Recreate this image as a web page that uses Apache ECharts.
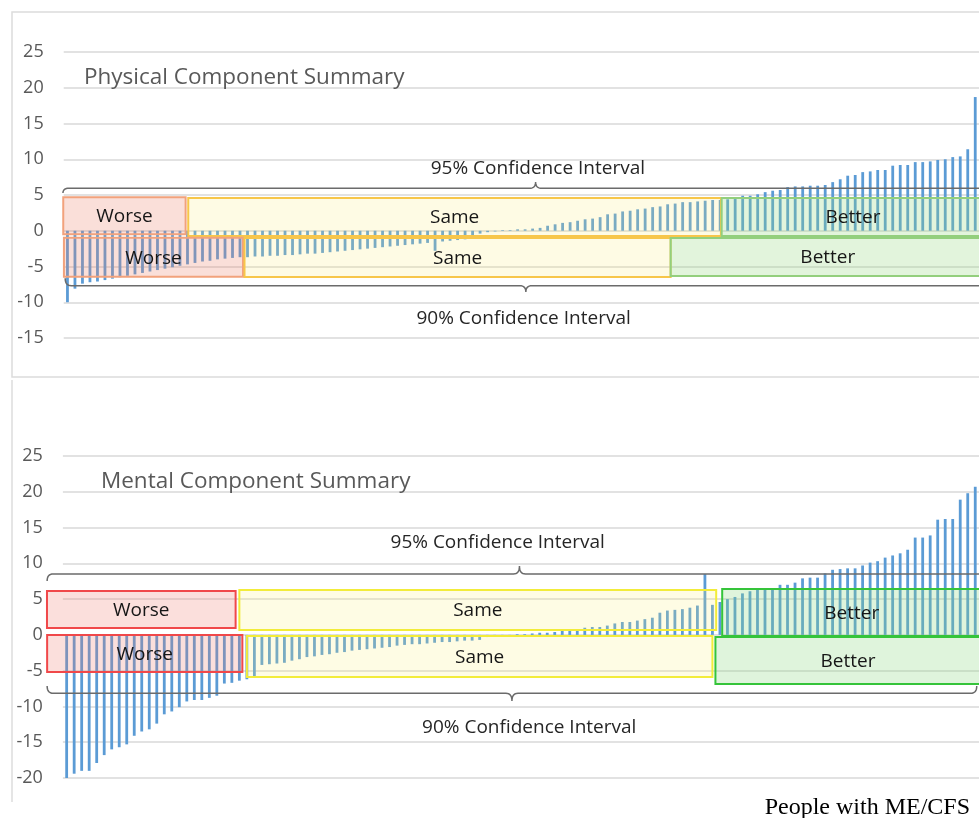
<!DOCTYPE html>
<html>
<head>
<meta charset="utf-8">
<script src="https://cdn.jsdelivr.net/npm/echarts@6/dist/echarts.min.js"></script>
<style>
html, body { margin: 0; padding: 0; background: #fff; }
#main { width: 979px; height: 818px; }
</style>
</head>
<body>
<div id="main"></div>
<script>
// score changes, one bar per person, sorted
var physical = [
  -10.0, -8.1, -7.4, -7.2, -7.1, -6.9, -6.7, -6.5, -6.3, -6.1, -5.9, -5.7, -5.5, -5.3, -5.1, -4.9,
  -4.7, -4.5, -4.3, -4.2, -4.0, -3.9, -3.8, -3.7,
  -3.7, -3.6, -3.6, -3.5, -3.5, -3.4, -3.4, -3.3, -3.2, -3.2, -3.1, -3.0, -2.9, -2.8, -2.7, -2.6,
  -2.5, -2.4, -2.3, -2.2, -2.1, -2.0, -1.9, -1.8, -1.7, -2.8, -1.5, -1.4, -1.3, -1.2, -1.1, -0.4,
  -0.2, -0.1, 0.1, 0.1, 0.2, 0.2, 0.3, 0.4,
  0.7, 0.9, 1.1, 1.2, 1.4, 1.6, 1.7, 1.9, 2.3, 2.4, 2.7, 2.8, 3.0, 3.1, 3.3, 3.4,
  3.7, 3.8, 4.0, 4.0, 4.1, 4.2, 4.3,
  4.3, 4.4, 4.7, 4.9, 4.9, 5.1, 5.4, 5.6, 5.7, 6.1, 6.2, 6.2, 6.3, 6.3, 6.4, 6.8,
  7.2, 7.7, 7.8, 8.2, 8.3, 8.5, 8.5, 9.1, 9.2, 9.2, 9.6, 9.6, 9.7, 9.9, 10.0, 10.3,
  10.4, 11.4, 18.7
];
var mental = [
  -20.1, -19.4, -19.0, -19.0, -17.9, -16.8, -16.0, -15.7, -15.3, -14.1, -13.5, -13.2, -12.4,
  -11.1, -10.7, -10.1, -9.3, -9.1, -9.1, -8.8, -8.5, -6.8, -6.7, -6.4, -6.2, -5.9,
  -4.2, -4.1, -4.0, -3.9, -3.6, -3.4, -3.1, -3.0, -2.8, -2.7, -2.5, -2.4, -2.2, -2.1, -2.0,
  -1.9, -1.8, -1.7, -1.5, -1.4, -1.3, -1.3, -1.2, -1.1, -1.0, -1.0, -0.9, -0.8, -0.8, -0.7,
  -0.3, -0.2, -0.1, -0.1,
  0.1, 0.1, 0.2, 0.3, 0.3, 0.4, 0.6, 0.7, 0.8, 1.0, 1.1, 1.1, 1.3, 1.6, 1.8, 1.8, 2.0,
  2.2, 2.4, 3.1, 3.4, 3.5, 3.6, 3.8, 4.1,
  8.5, 4.2, 4.6,
  5.0, 5.3, 5.8, 6.1, 6.3, 6.4, 6.5, 7.0, 7.0, 7.3, 7.9, 8.0, 8.0, 8.6, 9.1, 9.2, 9.3,
  9.3, 9.7, 10.1, 10.3, 10.8, 11.1, 11.4, 11.9, 13.6, 13.6, 13.9, 16.1, 16.2, 16.2,
  18.9, 19.8, 20.7
];

// y axis ticks
var physTicks = [-15, -10, -5, 0, 5, 10, 15, 20, 25];
var mentalTicks = [-20, -15, -10, -5, 0, 5, 10, 15, 20, 25];

// classification boxes: [from bar, to bar, low, high, label]
var physBands = [
  [-0.56, 15.75, -0.5, 4.68, 'Worse'],
  [16.1, 87.1, -0.73, 4.58, 'Same'],
  [87.2, 122.2, -0.73, 4.58, 'Better'],
  [-0.47, 23.4, -6.43, -0.97, 'Worse'],
  [23.6, 80.4, -6.47, -1.01, 'Same'],
  [80.4, 122.3, -6.33, -1.01, 'Better']
];
var mentalBands = [
  [-2.62, 22.5, 0.96, 6.13, 'Worse'],
  [23.0, 86.5, 0.68, 6.27, 'Same'],
  [87.3, 121.8, -0.15, 6.41, 'Better'],
  [-2.6, 23.4, -5.18, -0.01, 'Worse'],
  [24.0, 86.0, -5.88, -0.15, 'Same'],
  [86.4, 121.7, -6.86, -0.29, 'Better']
];

// braces: [left, tip, right, line, curl end, tip end, label, label x, label y, right curl]
var physBraces = [
  [-0.6, 62.4, 123, 5.94, 5.28, 6.8, '95% Confidence Interval', 62.7, 8.64, false],
  [-0.3, 61.1, 123, -7.69, -6.65, -8.57, '90% Confidence Interval', 60.8, -12.34, false]
];
var mentalBraces = [
  [-2.6, 60.3, 123, 8.51, 7.54, 9.63, '95% Confidence Interval', 57.4, 12.84, false],
  [-2.6, 59.3, 121.2, -8.16, -7.14, -9.24, '90% Confidence Interval', 61.6, -13.0, true]
];

var FONT = '"Open Sans", "Noto Sans", sans-serif';

var physPalette = {
  Worse: { stroke: '#f2a27c', fill: 'rgba(235,130,110,0.26)' },
  Same: { stroke: '#f7c64a', fill: 'rgba(250,235,120,0.2)' },
  Better: { stroke: '#93cf7d', fill: 'rgba(150,215,130,0.28)' }
};
var mentalPalette = {
  Worse: { stroke: '#f0484a', fill: 'rgba(240,120,110,0.24)' },
  Same: { stroke: '#f2ec3a', fill: 'rgba(250,240,120,0.2)' },
  Better: { stroke: '#35c43a', fill: 'rgba(140,215,130,0.28)' }
};

function boxSeries(idx, bands, palette) {
  return {
    type: 'custom',
    xAxisIndex: idx,
    yAxisIndex: idx,
    clip: false,
    z: 5,
    silent: true,
    data: bands.map(function (b) { return [b[0], b[1], b[2], b[3]]; }),
    renderItem: function (params, api) {
      var b = bands[params.dataIndex];
      var p0 = api.coord([b[0], b[3]]);
      var p1 = api.coord([b[1], b[2]]);
      var c = palette[b[4]];
      return {
        type: 'group',
        children: [
          {
            type: 'rect',
            shape: { x: p0[0], y: p0[1], width: p1[0] - p0[0], height: p1[1] - p0[1] },
            style: { fill: c.fill, stroke: c.stroke, lineWidth: 2 }
          },
          {
            type: 'text',
            z2: 10,
            style: {
              text: b[4], x: (p0[0] + p1[0]) / 2, y: (p0[1] + p1[1]) / 2 + 1,
              align: 'center', verticalAlign: 'middle',
              fontSize: 19, fontFamily: FONT, fill: '#161616'
            }
          }
        ]
      };
    }
  };
}

function quad(a, c, b, pts) {
  for (var t = 0; t <= 1.0001; t += 0.125) {
    var u = 1 - t;
    pts.push([u * u * a[0] + 2 * u * t * c[0] + t * t * b[0],
              u * u * a[1] + 2 * u * t * c[1] + t * t * b[1]]);
  }
}

function braceSeries(idx, braces) {
  return {
    type: 'custom',
    xAxisIndex: idx,
    yAxisIndex: idx,
    clip: false,
    z: 6,
    silent: true,
    data: braces.map(function (b) { return [b[0], b[3]]; }),
    renderItem: function (params, api) {
      var b = braces[params.dataIndex];
      var L = api.coord([b[0], b[3]]);
      var C = api.coord([b[0], b[4]]);
      var T = api.coord([b[1], b[5]]);
      var R = api.coord([b[2], b[3]]);
      var r = 6, w = 6;
      var pts = [];
      quad([L[0], C[1]], [L[0], L[1]], [L[0] + r, L[1]], pts);
      quad([T[0] - w, L[1]], [T[0], L[1]], [T[0], T[1]], pts);
      quad([T[0], T[1]], [T[0], L[1]], [T[0] + w, L[1]], pts);
      if (b[9]) {
        quad([R[0] - r, L[1]], [R[0], L[1]], [R[0], C[1]], pts);
      } else {
        pts.push([R[0], L[1]]);
      }
      var tp = api.coord([b[7], b[8]]);
      return {
        type: 'group',
        children: [
          { type: 'polyline', shape: { points: pts }, style: { fill: 'none', stroke: '#6b6b6b', lineWidth: 1.5 } },
          {
            type: 'text',
            style: {
              text: b[6], x: tp[0], y: tp[1], align: 'center', verticalAlign: 'middle',
              fontSize: 19, fontFamily: FONT, fill: '#262626'
            }
          }
        ]
      };
    }
  };
}

function yAxisFor(idx, ticks) {
  return {
    type: 'value',
    gridIndex: idx,
    min: ticks[0],
    max: ticks[ticks.length - 1],
    interval: 5,
    axisLine: { show: false },
    axisTick: { show: false },
    axisLabel: { color: '#595959', fontSize: 18, fontFamily: FONT, margin: 20 },
    splitLine: { lineStyle: { color: '#d9d9d9', width: 1.5 } }
  };
}

function xAxisFor(idx, n) {
  return {
    type: 'value',
    gridIndex: idx,
    min: -0.5,
    max: n - 0.5,
    show: false,
    splitLine: { show: false }
  };
}

function barSeries(idx, values) {
  return {
    type: 'bar',
    xAxisIndex: idx,
    yAxisIndex: idx,
    barWidth: 2.8,
    silent: true,
    itemStyle: { color: '#5b9bd5' },
    data: values.map(function (v, i) { return [i, v]; })
  };
}

var chart = echarts.init(document.getElementById('main'));
chart.setOption({
  animation: false,
  backgroundColor: '#fff',
  title: [
    { text: 'Physical Component Summary', left: 79, top: 61,
      textStyle: { color: '#595959', fontSize: 22.5, fontWeight: 'normal', fontFamily: FONT } },
    { text: 'Mental Component Summary', left: 96, top: 465,
      textStyle: { color: '#595959', fontSize: 22.5, fontWeight: 'normal', fontFamily: FONT } },
    { text: 'People with ME/CFS', right: 4, top: 791,
      textStyle: { color: '#000', fontSize: 24, fontWeight: 'normal', fontFamily: '"Liberation Serif", serif' } }
  ],
  graphic: [
    { type: 'rect', shape: { x: 12, y: 12, width: 990, height: 365 },
      style: { fill: 'none', stroke: '#dcdcdc', lineWidth: 1.5 }, z: -1 },
    { type: 'line', shape: { x1: 12, y1: 380, x2: 12, y2: 802 },
      style: { stroke: '#dcdcdc', lineWidth: 1.5 }, z: -1 }
  ],
  grid: [
    { left: 63.7, width: 918, top: 52, height: 286 },
    { left: 62.9, width: 917.4, top: 456, height: 322 }
  ],
  xAxis: [xAxisFor(0, physical.length), xAxisFor(1, mental.length)],
  yAxis: [yAxisFor(0, physTicks), yAxisFor(1, mentalTicks)],
  series: [
    barSeries(0, physical),
    barSeries(1, mental),
    boxSeries(0, physBands, physPalette),
    boxSeries(1, mentalBands, mentalPalette),
    braceSeries(0, physBraces),
    braceSeries(1, mentalBraces)
  ]
});
</script>
</body>
</html>
